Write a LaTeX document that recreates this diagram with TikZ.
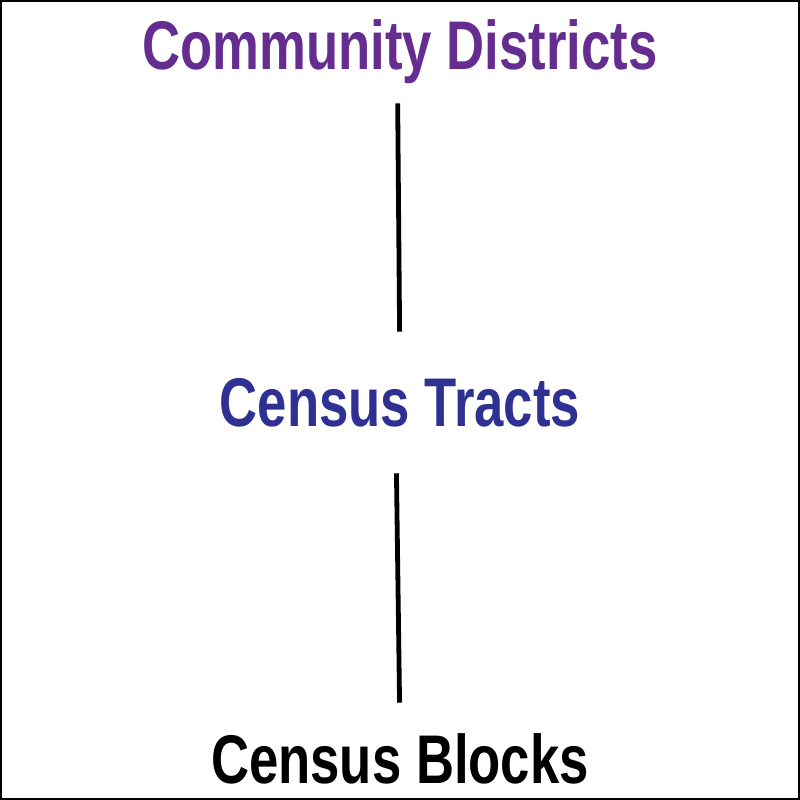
\documentclass[tikz,border=0pt]{standalone}
\usepackage{fontspec}
\usepackage{tikz}
\usetikzlibrary{matrix}
\newfontfamily\levelfont{Liberation Sans}[FakeStretch=0.765]
\definecolor{districtpurple}{HTML}{662D91}
\definecolor{tractblue}{HTML}{2E3192}

\begin{document}
\begin{tikzpicture}
\useasboundingbox (0,0) rectangle (20,20);
\draw[line width=0.05cm] (0.025,0.025) rectangle (19.975,19.975);
%\matrix(m)[matrix of nodes, row sep=7cm]
\matrix(m)[matrix of nodes, row sep=7.375cm,
	nodes={inner sep=0pt, text height=1.2cm, text depth=0.35cm,
	font=\levelfont\bfseries\fontsize{49}{50}\selectfont}]
	at (10,9.775)
{
	|[text=districtpurple]| Community Districts \\
	|[text=tractblue]| Census Tracts \\
	Census Blocks \\
};
\path[line width=0.12cm]
([xshift=-0.0625cm]m-1-1.south) edge[shorten <=0.5cm, shorten >=1.15cm] (m-2-1.north)
([xshift=-0.1cm]m-2-1.south) edge[shorten <=0.825cm, shorten >=0.8cm] (m-3-1.north)
;
\end{tikzpicture}
\end{document}
